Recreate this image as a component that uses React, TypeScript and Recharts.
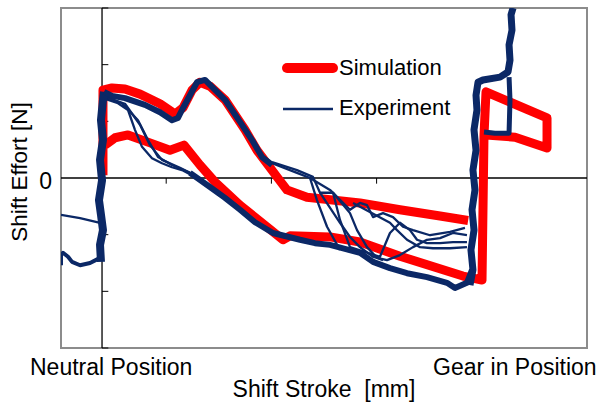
import { LineChart, Line, XAxis, YAxis, ReferenceLine, ReferenceArea, Customized } from 'recharts';

// Shift stroke [mm] vs shift effort [N].
// Axis crossing sits at the neutral position (x ~ 3.9 mm); gear-in is near 40 mm.

const simUpper = [
  [3.99, 5], [3.99, 155], [4.85, 159], [6.08, 157], [7.51, 148], [9.41, 131], [10.84, 113],
  [11.6, 124], [12.45, 155], [13.21, 169], [14.16, 162], [15.59, 138], [17.49, 85], [18.63, 49],
  [20.53, 2], [21.48, -21], [23.38, -34], [28.42, -44], [32.22, -56], [36.03, -67], [38.7, -75],
];
const simLower = [
  [4.18, 58], [5.13, 71], [6.37, 76], [8.46, 62], [10.36, 49], [11.69, 58], [13.21, 23],
  [14.64, -7], [17.02, -48], [21.1, -109], [21.77, -102], [25.57, -104], [28.42, -113],
  [32.22, -138], [38.21, -173], [40.02, -180], [40.21, 76], [40.4, 152], [46.2, 106],
  [46.2, 53], [43.16, 72], [40.4, 76],
];

const expNeutral = [
  [3.8, -148], [3.71, -118], [3.99, -92], [3.8, -65], [3.61, -39], [3.9, -4], [3.71, 32],
  [3.99, 67], [3.8, 102], [3.99, 138], [4.09, 152],
];
const expUpper = [
  [4.09, 152], [4.85, 145], [6.08, 141], [7.98, 129], [9.41, 116], [10.55, 102], [11.12, 106],
  [11.5, 120], [12.26, 146], [12.93, 169], [13.69, 173], [14.45, 159], [15.59, 138],
  [17.02, 99], [18.16, 67], [19.11, 37], [20.06, 23],
];
const expLower = [
  [12.26, 9], [14.16, -16], [15.59, -35], [17.02, -56], [18.44, -78], [20.15, -97],
  [22.72, -109], [24.14, -115], [25.57, -118], [28.42, -132], [29.66, -148], [31.27, -159],
  [32.89, -168], [34.79, -175], [36.69, -185], [37.45, -194], [38.59, -185], [39.07, -162],
];
const expGear = [
  [38.88, -189], [39.16, -162], [38.97, -127], [39.26, -92], [39.07, -56], [39.35, -21],
  [39.16, 14], [39.45, 49], [39.26, 85], [39.54, 120], [39.45, 146], [39.64, 169],
  [40.11, 173], [41.73, 178], [42.49, 187], [42.68, 208], [42.59, 235], [42.87, 261],
  [42.78, 288], [42.97, 300],
];
const expBox = [[42.59, 178], [42.68, 138], [42.59, 79], [41.25, 79], [40.21, 81]];

const expThin = [
  [[3.99, 141], [5.42, 132], [6.37, 120], [7.03, 85], [7.7, 55], [8.65, 35], [9.6, 26], [10.55, 19], [11.5, 14], [12.74, 2], [14.16, -16]],
  [[4.09, 145], [5.8, 132], [7.32, 102], [8.27, 67], [9.22, 37], [10.55, 23], [12.26, 9]],
  [[4.18, 143], [6.08, 131], [7.51, 94], [8.46, 58], [9.6, 32], [11.31, 18], [12.74, 5]],
  [[19.11, 37], [20.06, 26], [22.43, 9], [23.67, 0], [24.33, -39], [25.29, -86], [26.52, -127]],
  [[20.06, 28], [22.43, 14], [23.95, 2], [24.62, -26], [25.86, -26], [26.52, -74], [27.47, -122]],
  [[23.67, 0], [25.57, -21], [27.47, -56], [28.42, -44], [29.09, -48], [29.66, -69], [30.61, -62], [31.56, -69], [32.51, -86], [33.46, -92], [35.08, -101], [36.98, -95], [38.4, -88]],
  [[24.62, -26], [26.52, -79], [27.47, -104], [28.42, -122], [29.66, -139], [30.99, -145], [32.22, -136], [33.46, -122], [34.79, -109], [36.03, -106], [37.26, -97], [38.59, -101]],
  [[25.86, -26], [27.47, -62], [28.14, -92], [29.09, -122], [30.04, -141], [30.61, -145]],
  [[27.76, -44], [31.27, -79], [31.94, -92], [32.89, -109], [34.13, -122], [35.36, -124], [36.98, -124], [38.59, -122]],
  [[27.47, -122], [30.32, -139], [31.27, -97], [32.22, -79], [33.17, -92], [33.84, -109], [34.79, -115], [36.03, -115], [37.26, -113], [38.59, -113]],
  [[0, -65], [1.81, -71], [3.71, -79]],
];
const expLeft = [[0, -154], [0, -136], [0.19, -132], [0.67, -139], [1.05, -148], [1.81, -154], [2.76, -150], [3.71, -141]];

const xTicks = [10, 20, 30, 40];
const yTicks = [-300, -200, -100, 100, 200, 300];
const axisX = 3.9;

const RED = '#ff0000';
const BLUE = '#0b2866';
const FONT = '"Liberation Sans", Arial, sans-serif';

const toPts = (a: number[][]) => a.map(([x, y]) => ({ x, y }));

function Texts() {
  return (
    <g fontFamily={FONT} fill="#000">
      <text x={52} y={189} fontSize={23} textAnchor="end">0</text>
      <text x={30} y={375} fontSize={23}>Neutral Position</text>
      <text x={433} y={375} fontSize={23}>Gear in Position</text>
      <text x={324} y={397} fontSize={23} textAnchor="middle" style={{ whiteSpace: 'pre' }}>Shift Stroke  [mm]</text>
      <text x={27} y={172} fontSize={22.5} textAnchor="middle" transform="rotate(-90 27 172)">Shift Effort [N]</text>
      <line x1={287} y1={68} x2={333} y2={68} stroke={RED} strokeWidth={10} strokeLinecap="round" />
      <text x={339} y={75} fontSize={22}>Simulation</text>
      <line x1={283} y1={109} x2={333} y2={109} stroke={BLUE} strokeWidth={2.5} />
      <text x={339} y={115} fontSize={22}>Experiment</text>
    </g>
  );
}

export default function App() {
  const lineProps = { dataKey: 'y', dot: false, isAnimationActive: false, type: 'linear' as const, strokeLinejoin: 'round' as const, legendType: 'none' as const };
  return (
    <div style={{ position: 'absolute', left: 0, top: 0, background: '#fff' }}>
      <LineChart width={597} height={407} margin={{ top: 8, left: 61, right: 10, bottom: 59 }}>
        <XAxis type="number" dataKey="x" domain={[0, 50]} hide allowDataOverflow />
        <YAxis type="number" domain={[-300, 300]} hide allowDataOverflow />
        <ReferenceArea x1={0} x2={50} y1={-300} y2={300} fill="none" stroke="#8c8c8c" strokeWidth={2} ifOverflow="visible" />
        <ReferenceLine y={0} stroke="#000" strokeWidth={1.3} />
        <ReferenceLine x={axisX} stroke="#000" strokeWidth={1.3} />
        {xTicks.map((t) => (
          <ReferenceLine key={`xt${t}`} segment={[{ x: t, y: 0 }, { x: t, y: -10 }]} stroke="#000" />
        ))}
        {yTicks.map((t) => (
          <ReferenceLine key={`yt${t}`} segment={[{ x: axisX, y: t }, { x: axisX + 0.6, y: t }]} stroke="#000" />
        ))}
        <Line {...lineProps} data={toPts(simUpper)} stroke={RED} strokeWidth={9} />
        <Line {...lineProps} data={toPts(simLower)} stroke={RED} strokeWidth={9} />
        {expThin.map((s, i) => (
          <Line key={`thin${i}`} {...lineProps} data={toPts(s)} stroke={BLUE} strokeWidth={2.3} />
        ))}
        <Line {...lineProps} data={toPts(expLeft)} stroke={BLUE} strokeWidth={4} />
        <Line {...lineProps} data={toPts(expNeutral)} stroke={BLUE} strokeWidth={8} />
        <Line {...lineProps} data={toPts(expUpper)} stroke={BLUE} strokeWidth={6} />
        <Line {...lineProps} data={toPts(expLower)} stroke={BLUE} strokeWidth={6} />
        <Line {...lineProps} data={toPts(expGear)} stroke={BLUE} strokeWidth={7} />
        <Line {...lineProps} data={toPts(expBox)} stroke={BLUE} strokeWidth={5} />
        <Customized component={Texts} />
      </LineChart>
    </div>
  );
}
